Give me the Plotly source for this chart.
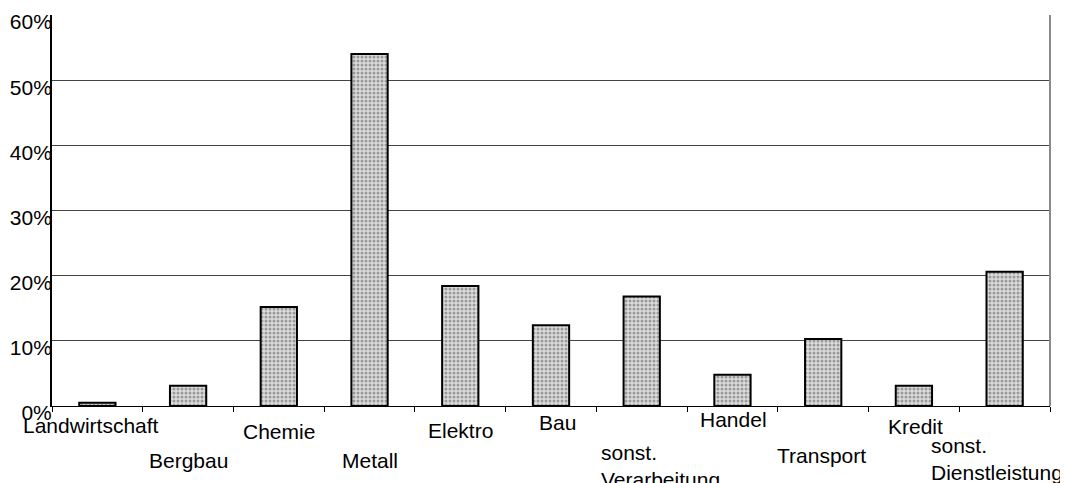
import plotly.graph_objects as go

# data
branchen = ['Landwirtschaft', 'Bergbau', 'Chemie', 'Metall', 'Elektro', 'Bau',
            'sonst.<br>Verarbeitung', 'Handel', 'Transport', 'Kredit',
            'sonst.<br>Dienstleistung']
anteile = [0.005, 0.031, 0.152, 0.540, 0.184, 0.124, 0.168, 0.048, 0.103, 0.031, 0.206]

# staggered label placement (pixel offsets from bar centre / baseline)
label_dx = [-6, 0, 0, 0, 0, 6, 19, 1, -2, 2, -8]
label_dy = [-19, -54, -25, -54, -24, -16, -60, -13, -49, -20, -53]

FONT = 'Liberation Sans, Arial, sans-serif'

fig = go.Figure()

fig.add_trace(go.Bar(
    x=list(range(len(branchen))),
    y=anteile,
    marker=dict(
        color='#d8d8d8',
        line=dict(color='black', width=2),
        pattern=dict(shape='.', fgcolor='#555555', bgcolor='#dcdcdc',
                     size=4, solidity=0.45),
    ),
    showlegend=False,
))

for i, name in enumerate(branchen):
    fig.add_annotation(
        x=i, y=0, xref='x', yref='y',
        text=name, showarrow=False,
        xanchor='center', yanchor='middle',
        align='left',
        xshift=label_dx[i], yshift=label_dy[i],
        font=dict(family=FONT, size=21, color='black'),
    )

# thin grey frame on the right side
fig.add_shape(type='line', xref='paper', yref='paper', x0=1, x1=1, y0=0, y1=1,
              line=dict(color='#8a8a8a', width=2))

# the page body adds 8px, margins below allow for that
fig.update_layout(
    width=1068, height=483,
    margin=dict(l=44, r=26, t=7, b=85),
    paper_bgcolor='white', plot_bgcolor='white',
    bargap=0.6,
    font=dict(family=FONT, size=21, color='black'),
    xaxis=dict(
        type='linear',
        range=[-0.5, len(branchen) - 0.5],
        tickmode='array',
        tickvals=[i - 0.5 for i in range(len(branchen) + 1)],
        ticktext=[''] * (len(branchen) + 1),
        ticks='outside', ticklen=5, tickcolor='black', tickwidth=1,
        showline=True, linecolor='black', linewidth=1,
        showgrid=False, zeroline=False,
        automargin=False,
    ),
    yaxis=dict(
        range=[0, 0.6],
        dtick=0.1,
        tickformat='.0%',
        ticks='', ticklen=0,
        ticklabelstandoff=-6,
        ticklabelshift=7,
        showline=True, linecolor='black', linewidth=2,
        showgrid=True, gridcolor='#444444', gridwidth=1,
        zeroline=False,
        automargin=False,
        tickfont=dict(family=FONT, size=21, color='black'),
    ),
)

fig.write_html('out.html')
